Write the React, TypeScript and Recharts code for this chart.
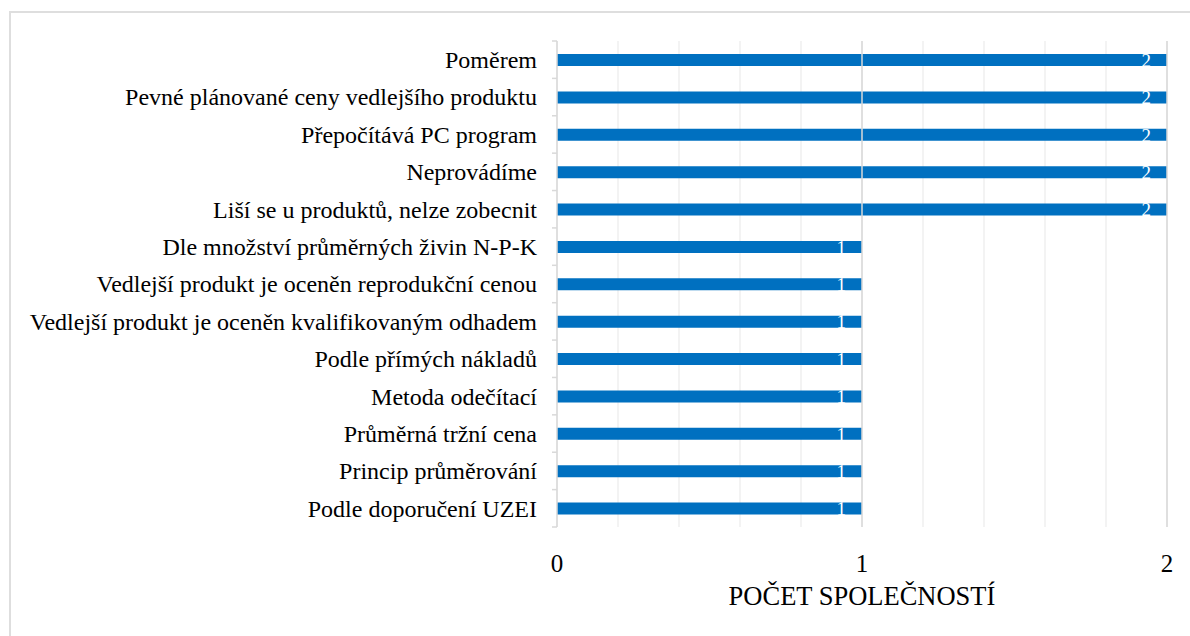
import React from 'react';
import { BarChart, Bar, XAxis, YAxis, CartesianGrid, ReferenceLine, LabelList, Label } from 'recharts';

const categories = [
  'Poměrem',
  'Pevné plánované ceny vedlejšího produktu',
  'Přepočítává PC program',
  'Neprovádíme',
  'Liší se u produktů, nelze zobecnit',
  'Dle množství průměrných živin N-P-K',
  'Vedlejší produkt je oceněn reprodukční cenou',
  'Vedlejší produkt je oceněn kvalifikovaným odhadem',
  'Podle přímých nákladů',
  'Metoda odečítací',
  'Průměrná tržní cena',
  'Princip průměrování',
  'Podle doporučení UZEI',
];
const values = [2, 2, 2, 2, 2, 1, 1, 1, 1, 1, 1, 1, 1];
const xTicks = [0, 0.2, 0.4, 0.6, 0.8, 1, 1.2, 1.4, 1.6, 1.8, 2];
const majorLines = [1, 2];
const axisTitle = 'POČET SPOLEČNOSTÍ';

const data = categories.map((name, i) => ({ name, value: values[i] }));

const FONT = '"Liberation Serif", "Times New Roman", serif';
const TOP = 41;
const BOTTOM_PLOT = 527;
const BAND = (BOTTOM_PLOT - TOP) / categories.length;

const YTick = (props: any) => {
  const { x, y, payload, index } = props;
  const axisX = x + 20;
  return (
    <g>
      <line x1={axisX - 5} x2={axisX} y1={y - BAND / 2} y2={y - BAND / 2} stroke="#d9d9d9" strokeWidth={1.5} />
      {index === categories.length - 1 && (
        <line x1={axisX - 5} x2={axisX} y1={y + BAND / 2} y2={y + BAND / 2} stroke="#d9d9d9" strokeWidth={1.5} />
      )}
      <text x={x} y={y} dy="0.35em" textAnchor="end" fontFamily={FONT} fontSize={24} fill="#000">
        {payload.value}
      </text>
    </g>
  );
};

const XTick = (props: any) => {
  const { x, y, payload } = props;
  if (!Number.isInteger(payload.value)) return null;
  return (
    <text x={x} y={y} dy="0.71em" textAnchor="middle" fontFamily={FONT} fontSize={25} fill="#000">
      {payload.value}
    </text>
  );
};

export default function App() {
  return (
    <div style={{ position: 'absolute', left: 0, top: 0, width: 1190, height: 636, background: '#fff', overflow: 'hidden' }}>
      <div
        style={{
          position: 'absolute',
          left: 9,
          top: 11,
          width: 1200,
          height: 640,
          borderTop: '2px solid #dedede',
          borderLeft: '2px solid #dedede',
        }}
      />
      <div style={{ position: 'absolute', left: 0, top: 0 }}>
        <BarChart
          width={1190}
          height={636}
          data={data}
          layout="vertical"
          margin={{ top: TOP, right: 23, bottom: 29, left: 0 }}
        >
          <CartesianGrid horizontal={false} vertical stroke="#efefef" strokeWidth={1.5} />
          <XAxis
            type="number"
            domain={[0, 2]}
            ticks={xTicks}
            interval={0}
            axisLine={false}
            tickLine={false}
            height={80}
            tick={<XTick />}
            tickMargin={21}
          >
            <Label value={axisTitle} position="insideBottom" offset={2} fontFamily={FONT} fontSize={26.5} fill="#000" />
          </XAxis>
          <YAxis
            type="category"
            dataKey="name"
            width={557}
            axisLine={{ stroke: '#d9d9d9', strokeWidth: 1.5 }}
            tickLine={false}
            tickSize={6}
            tickMargin={14}
            interval={0}
            tick={<YTick />}
          />
          {majorLines.map((v) => (
            <ReferenceLine key={v} x={v} stroke="#d9d9d9" strokeWidth={1.5} />
          ))}
          <Bar dataKey="value" fill="#0070C0" barSize={12} isAnimationActive={false}>
            <LabelList dataKey="value" position="insideRight" offset={16} fill="#fff" fontFamily={FONT} fontSize={19} />
          </Bar>
        </BarChart>
      </div>
    </div>
  );
}
